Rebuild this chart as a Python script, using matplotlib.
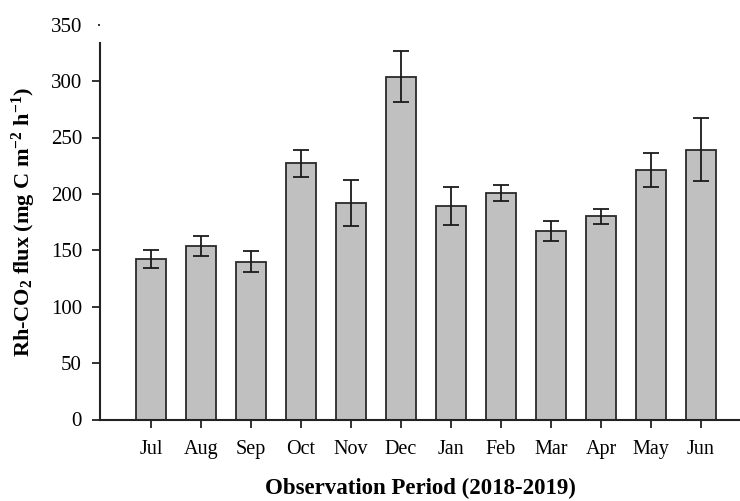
import matplotlib
matplotlib.use("Agg")
import matplotlib.pyplot as plt
import numpy as np

months = ["Jul", "Aug", "Sep", "Oct", "Nov", "Dec", "Jan", "Feb", "Mar", "Apr", "May", "Jun"]
flux = [142, 154, 140, 227, 192, 304, 189, 201, 167, 180, 221, 239]
err = [8, 9, 9, 12, 20.5, 22.5, 17, 7, 9, 7, 15, 28]
yticks = [0, 50, 100, 150, 200, 250, 300, 350]

plt.rcParams['font.family'] = ['Liberation Serif', 'DejaVu Serif']
plt.rcParams['mathtext.fontset'] = 'custom'
plt.rcParams['mathtext.rm'] = 'Liberation Serif'
plt.rcParams['mathtext.bf'] = 'Liberation Serif:bold'
plt.rcParams['mathtext.default'] = 'bf'

fig = plt.figure(figsize=(7.40, 5.01), dpi=100)
ax = fig.add_axes([100/740, 1 - 419.5/501, 640/740, (419.5 - 24.7)/501])

x = np.arange(len(months))
ax.bar(x, flux, width=0.6, color="#c0c0c0", edgecolor="#2a2a2a", linewidth=1.3, zorder=2)
ax.errorbar(x, flux, yerr=err, fmt="none", ecolor="#1a1a1a", elinewidth=1.3,
            capsize=5.5, capthick=1.3, zorder=3)

ax.set_xlim(-1.02, 11.78)
ax.set_ylim(0, 350)
ax.set_yticks(yticks)
ax.set_yticklabels([str(v) for v in yticks], fontsize=15)
ax.set_xticks(x)
ax.set_xticklabels(months, fontsize=14.5)

for s in ["top", "right"]:
    ax.spines[s].set_visible(False)
ax.spines["left"].set_bounds(0, 334)
ax.spines["left"].set_linewidth(1.5)
ax.spines["bottom"].set_linewidth(1.5)
ax.spines["left"].set_color("#222222")
ax.spines["bottom"].set_color("#222222")

ax.tick_params(axis="y", direction="out", length=6, width=1.3, pad=7, colors="#222222")
ax.tick_params(axis="x", direction="out", length=6, width=1.3, pad=9, colors="#222222")
ax.tick_params(labelcolor="black")
ticks = ax.yaxis.get_major_ticks()
ticks[-1].tick1line.set_markersize(1.5)

ax.set_ylabel("Rh-CO$_2$ flux (mg C m$^{-2}$ h$^{-1}$)",
              fontsize=16, fontweight="bold", labelpad=9)
ax.set_xlabel("Observation Period (2018-2019)", fontsize=16.5, fontweight="bold", labelpad=13)

fig.savefig("out.png", dpi=100)
